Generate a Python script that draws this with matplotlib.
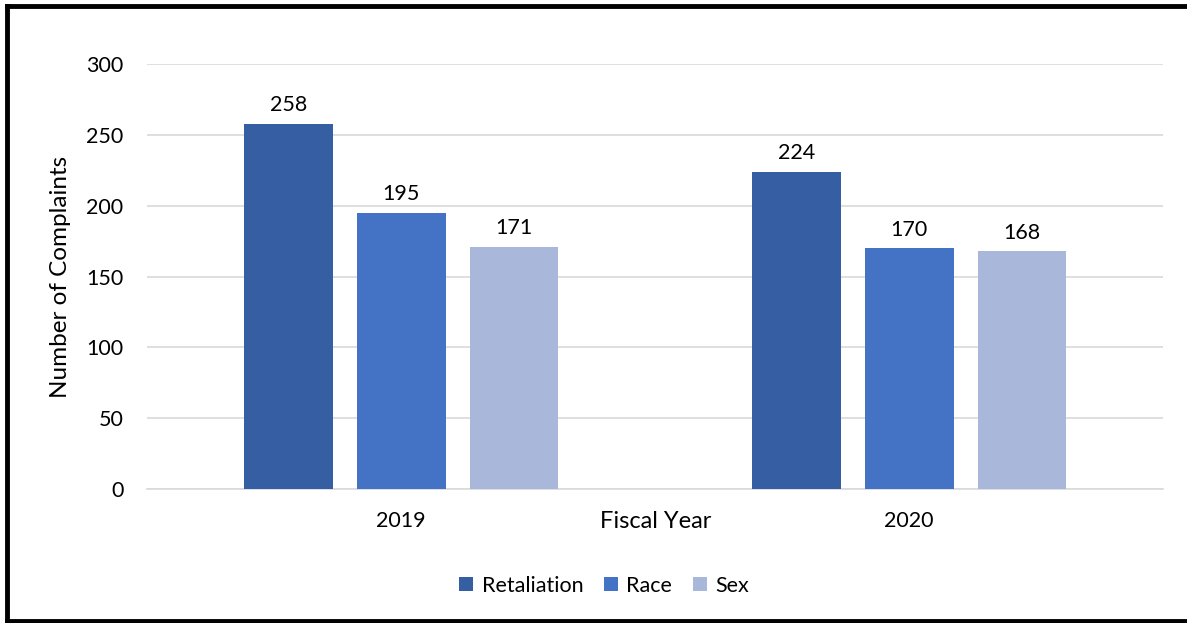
import numpy as np
import matplotlib.pyplot as plt
from matplotlib.lines import Line2D

plt.rcParams['font.family'] = ['Lato', 'DejaVu Sans']

years = ["2019", "2020"]
series = ["Retaliation", "Race", "Sex"]
retaliation = [258, 224]
race = [195, 170]
sex = [171, 168]
colors = ["#365FA3", "#4472C4", "#A9B7DB"]

fig = plt.figure(figsize=(11.87, 6.23), dpi=100)
ax = fig.add_axes([0.124, 0.215, 0.856, 0.682])

x = np.arange(len(years))
width = 0.175
step = 0.222
for i, (name, vals) in enumerate(zip(series, [retaliation, race, sex])):
    pos = x + (i - 1) * step
    bars = ax.bar(pos, vals, width, color=colors[i], label=name, zorder=3)
    for b, v in zip(bars, vals):
        ax.text(b.get_x() + b.get_width() / 2, v + 6, str(v), ha="center", va="bottom",
                fontsize=15.5, color="#000000")

ax.set_xlim(-0.5, 1.5)
ax.set_ylim(0, 300)
ax.set_yticks(range(0, 301, 50))
ax.set_xticks(x)
ax.set_xticklabels(years)
ax.tick_params(axis="both", length=0, labelsize=15.5, colors="#000000")
ax.tick_params(axis="y", pad=17)
ax.tick_params(axis="x", pad=16)
ax.grid(axis="y", color="#D9D9D9", linewidth=1.2, zorder=0)
for s in ["top", "right", "left"]:
    ax.spines[s].set_visible(False)
ax.spines["bottom"].set_color("#D9D9D9")
ax.spines["bottom"].set_linewidth(1.2)

ax.set_ylabel("Number of Complaints", fontsize=17.5, labelpad=11)
fig.text(0.552, 0.163, "Fiscal Year", ha="center", va="center", fontsize=17)

ax.legend(loc="center", bbox_to_anchor=(0.509, 0.06), bbox_transform=fig.transFigure,
          ncol=3, frameon=False, fontsize=15.5, handlelength=0.65, handleheight=0.65,
          handletextpad=0.4, columnspacing=0.95)

# black frame on left, top and bottom
frame = dict(transform=fig.transFigure, color="black", linewidth=3.5)
fig.lines.append(Line2D([0.0055, 0.0055], [0.004, 0.99], **frame))
fig.lines.append(Line2D([0.0055, 1.0], [0.99, 0.99], **frame))
fig.lines.append(Line2D([0.0055, 1.0], [0.004, 0.004], **frame))

fig.savefig("out.png", dpi=100)
